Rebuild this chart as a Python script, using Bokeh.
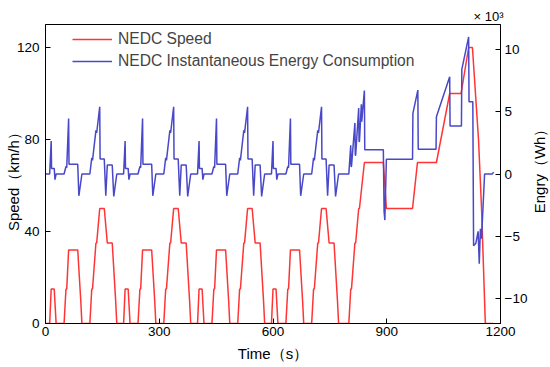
import math
from bokeh.plotting import figure
from bokeh.layouts import row
from bokeh.models import Range1d, LinearAxis, FixedTicker, Legend, LegendItem, Label
from bokeh.embed import file_html
from bokeh.resources import INLINE

# ---------------- data ----------------
# ECE-15 urban cycle (repeated four times in the NEDC), relative time in s
ece_cycle_starts = [0, 195, 390, 585]
ece_time_speed = [0, 11, 15, 23, 28, 49, 54, 56, 61, 85, 93, 96, 117, 122, 124,
                  133, 135, 143, 155, 163, 176, 185, 188, 195]
ece_speed = [0, 0, 15, 15, 0, 0, 15, 15, 32, 32, 10, 0, 0, 15, 15,
             35, 35, 50, 50, 35, 35, 10, 0, 0]
ece_time_energy = [0, 11, 15, 16, 23, 25, 28, 49, 54, 56, 61, 62, 85, 88, 96,
                   117, 122, 124, 133, 135, 143, 144, 155, 159, 163, 176, 180, 188, 195]
ece_energy = [0, 0, 2.65, 0.45, 0.45, -0.45, 0, 0, 0.6, 0.5, 4.45, 0.78, 0.78, -1.75, 0,
              0, 1.3, 1.1, 3.5, 3.3, 5.4, 1.2, 1.2, -1.75, 0.72, 0.72, -1.8, 0, 0]

# EUDC extra-urban part, absolute time in s
eudc_time_speed = [780, 800, 805, 807, 816, 818, 826, 828, 841, 891, 899, 968, 981,
                   1031, 1066, 1096, 1116, 1126, 1142, 1150, 1160, 1180]
eudc_speed = [0, 0, 15, 15, 35, 35, 50, 50, 70, 70, 50, 50, 70,
              70, 100, 100, 120, 120, 80, 50, 0, 0]
eudc_time_energy = [780, 800, 805, 806, 807, 816, 817, 818, 826, 827, 828, 833, 834, 841, 842,
                    891, 893, 895, 899, 968, 969, 982, 983, 1030, 1031, 1066, 1067, 1097,
                    1098, 1116, 1117, 1127, 1129, 1135, 1141, 1144, 1147, 1150, 1158, 1178, 1182]
eudc_energy = [0, 0, 2.3, 0.6, 0.6, 4.1, 1.5, 1.5, 5.3, 2.6, 2.6, 5.6, 4.2, 6.7, 1.95,
               1.95, -3.0, -3.7, 1.18, 1.18, 4.87, 6.74, 1.98, 1.98, 4.6, 7.8, 3.85, 3.85,
               8.4, 11.0, 5.8, 5.8, -5.75, -5.55, -4.6, -7.2, -4.4, -5.2, 0.0, 0.0, 0.15]

x_ticks = [0, 300, 600, 900, 1200]
speed_ticks = [0, 40, 80, 120]
energy_ticks = [-10, -5, 0, 5, 10]

# assemble full NEDC series
t_speed, v_speed, t_en, v_en = [], [], [], []
for s in ece_cycle_starts:
    t_speed += [s + t for t in ece_time_speed]
    v_speed += ece_speed
    t_en += [s + t for t in ece_time_energy]
    v_en += ece_energy
t_speed += eudc_time_speed
v_speed += eudc_speed
t_en += eudc_time_energy
v_en += eudc_energy

RED = "#ff3434"
BLUE = "#4848c8"
FONT = "Liberation Sans"
H = 365

p = figure(width=530, height=H, x_range=Range1d(0, 1200), y_range=Range1d(0, 130),
           output_backend="svg", toolbar_location=None,
           min_border_left=45, min_border_right=27, min_border_top=24, min_border_bottom=42)
p.extra_y_ranges = {"energy": Range1d(-12, 12)}
p.xgrid.visible = False
p.ygrid.visible = False
p.outline_line_color = "black"
p.outline_line_width = 1
p.background_fill_color = "white"
p.border_fill_color = "white"

p.title.text = "× 10³"
p.title.align = "right"
p.title.offset = -3
p.title.standoff = 1
p.title.text_font = FONT
p.title.text_font_size = "13px"
p.title.text_font_style = "normal"
p.title.text_color = "black"

r_speed = p.line(t_speed, v_speed, color=RED, line_width=1.5)
r_en = p.line(t_en, v_en, color=BLUE, line_width=1.5, y_range_name="energy")

right = LinearAxis(y_range_name="energy")
p.add_layout(right, "right")

for ax in [p.xaxis[0], p.yaxis[0], right]:
    ax.axis_line_color = "black"
    ax.major_tick_line_color = "black"
    ax.minor_tick_line_color = None
    ax.major_tick_in = 5
    ax.major_tick_out = 0
    ax.major_label_text_font = FONT
    ax.major_label_text_font_size = "13.5px"
    ax.major_label_text_color = "black"
    ax.axis_label_text_font = FONT
    ax.axis_label_text_font_size = "15px"
    ax.axis_label_text_font_style = "normal"
    ax.axis_label_text_color = "black"

p.xaxis.ticker = FixedTicker(ticks=x_ticks)
p.xaxis.axis_label = "Time（s）"
p.xaxis.major_label_standoff = 3
p.xaxis.axis_label_standoff = 6

p.yaxis[0].ticker = FixedTicker(ticks=speed_ticks)
p.yaxis[0].axis_label = "Speed（km/h）\u00a0\u00a0"
p.yaxis[0].major_label_standoff = 6
p.yaxis[0].axis_label_standoff = -8

right.ticker = FixedTicker(ticks=energy_ticks)
right.major_label_overrides = {t: (("\u2212" + str(-t)) if t < 0 else str(t)) for t in energy_ticks}
right.major_label_standoff = 4

legend = Legend(items=[LegendItem(label="NEDC Speed", renderers=[r_speed]),
                       LegendItem(label="NEDC Instantaneous Energy Consumption", renderers=[r_en])],
                location=(27, 252), border_line_color=None, background_fill_alpha=0,
                padding=0, margin=0, spacing=2, glyph_width=40, glyph_height=20,
                label_height=20, label_standoff=6,
                label_text_font=FONT, label_text_font_size="15.6px")
p.add_layout(legend)

# narrow strip holding the right-hand axis title, reading bottom to top
LW = 20
lab = figure(width=LW, height=H, x_range=Range1d(0, LW), y_range=Range1d(0, H),
             output_backend="svg", toolbar_location=None, min_border=0,
             x_axis_location=None, y_axis_location=None)
lab.xgrid.visible = False
lab.ygrid.visible = False
lab.outline_line_color = None
lab.background_fill_color = "white"
lab.border_fill_color = "white"
lab.add_layout(Label(x=8.7, y=H - 174.5, text="Engry（Wh）", angle=math.pi / 2,
                     text_align="center", text_baseline="middle",
                     text_font=FONT, text_font_size="15px", text_color="black"))

layout = row(p, lab, spacing=0)
open("out.html", "w").write(file_html(layout, INLINE))
